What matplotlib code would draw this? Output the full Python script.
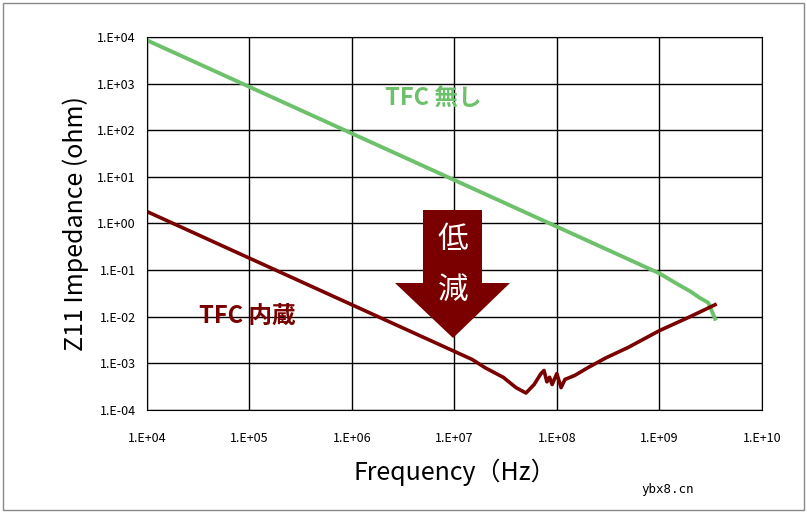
import math
import matplotlib.pyplot as plt
from matplotlib.patches import Polygon, Rectangle

plt.rcParams['font.family'] = ['Noto Sans CJK JP', 'DejaVu Sans']

# values
f_green = [1e4, 1e5, 1e6, 1e7, 1e8, 1e9, 1.5e9, 2e9, 2.5e9, 3e9, 3.5e9]
z_green = [8.5e3, 8.5e2, 85, 8.5, 0.85, 0.085, 0.05, 0.035, 0.025, 0.02, 0.009]

f_red = [1e4, 1e5, 1e6, 1e7, 1.5e7, 2e7, 3e7, 4e7, 5e7, 6e7, 7e7, 7.5e7,
         8e7, 8.5e7, 9e7, 1e8, 1.1e8, 1.2e8, 1.5e8, 2e8, 3e8, 5e8, 1e9,
         2e9, 3.5e9]
z_red = [1.8, 0.18, 0.018, 0.0018, 1.2e-3, 8e-4, 5e-4, 3e-4, 2.3e-4,
         3.5e-4, 6e-4, 7e-4, 4e-4, 5e-4, 3.5e-4, 6e-4, 3e-4, 4.5e-4,
         5.5e-4, 8e-4, 1.3e-3, 2.2e-3, 5e-3, 1e-2, 1.8e-2]

xticks = [1e4, 1e5, 1e6, 1e7, 1e8, 1e9, 1e10]
yticks = [1e-4, 1e-3, 1e-2, 1e-1, 1e0, 1e1, 1e2, 1e3, 1e4]


def label(v):
    e = int(round(math.log10(v)))
    return f"1.E{'+' if e >= 0 else '-'}{abs(e):02d}"


green = "#6cc16a"
red = "#7a0000"

fig = plt.figure(figsize=(8.07, 5.13), dpi=100)
fig.patches.append(Rectangle((0.004, 0.006), 0.992, 0.988, transform=fig.transFigure,
                             fill=False, edgecolor="#888888", linewidth=1))
ax = fig.add_axes([0.182, 0.201, 0.762, 0.727])
ax.set_xscale("log")
ax.set_yscale("log")
ax.set_xlim(1e4, 1e10)
ax.set_ylim(1e-4, 1e4)
ax.set_xticks(xticks)
ax.set_xticklabels([label(v) for v in xticks])
ax.set_yticks(yticks)
ax.set_yticklabels([label(v) for v in yticks])
ax.minorticks_off()
ax.tick_params(labelsize=9, length=0)
ax.tick_params(axis="x", pad=16)
ax.tick_params(axis="y", pad=8)
ax.grid(True, color="black", linewidth=1)
for s in ax.spines.values():
    s.set_color("black")

ax.plot(f_green, z_green, color=green, linewidth=2.8)
ax.plot(f_red, z_red, color=red, linewidth=2.6)

ax.set_xlabel("Frequency（Hz）", fontsize=18, labelpad=10)
ax.set_ylabel("Z11 Impedance (ohm)", fontsize=18, labelpad=6)

ax.text(2.1e6, 480, "TFC 無し", color=green, fontsize=17, fontweight="bold", ha="left", va="center")
ax.text(9.5e4, 1.05e-2, "TFC 内蔵", color=red, fontsize=17, fontweight="bold", ha="center", va="center")


def px(x, y):
    return (x, 513 - y)


arrow_pts = [(423, 210), (482, 210), (482, 283), (510, 283), (453, 338),
             (395, 283), (423, 283)]
arrow = Polygon([px(x, y) for x, y in arrow_pts], closed=True, transform=None,
                facecolor=red, edgecolor="none", zorder=5)
fig.patches.append(arrow)
fig.text(453 / 807, 1 - 240 / 513, "低", color="white", fontsize=22, ha="center", va="center", zorder=6)
fig.text(453 / 807, 1 - 290 / 513, "減", color="white", fontsize=22, ha="center", va="center", zorder=6)

fig.text(0.86, 0.045, "ybx8.cn", fontsize=9, ha="right", va="center", family="DejaVu Sans Mono")

fig.savefig("out.png", dpi=100)
